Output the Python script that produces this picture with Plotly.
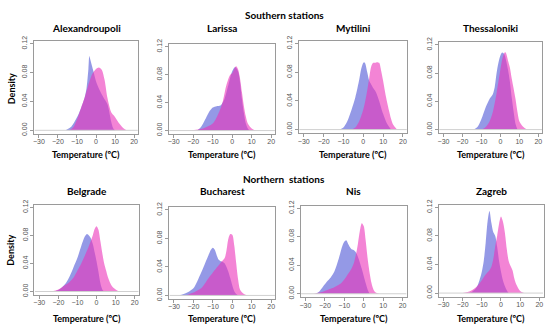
import plotly.graph_objects as go

# ---------------- data ----------------
stations = ["Alexandroupoli", "Larissa", "Mytilini", "Thessaloniki",
            "Belgrade", "Bucharest", "Nis", "Zagreb"]
group_titles = ["Southern stations", "Northern  stations"]
x_ticks = [-30, -20, -10, 0, 10, 20]
y_ticks = [0.00, 0.04, 0.08, 0.12]
y_tick_labels = ["0.00", "0.04", "0.08", "0.12"]

alex_blue_x = [-16, -13, -10, -8, -6, -5, -4, -3.5, -3, -2, -1, 0, 2, 4, 6, 8, 9, 10]
alex_blue_y = [0, 0.005, 0.018, 0.03, 0.045, 0.058, 0.085, 0.103, 0.098, 0.088, 0.078, 0.068, 0.055, 0.045, 0.036, 0.012, 0.003, 0]
alex_pink_x = [-14, -12, -10, -8, -6, -4, -2, 0, 1.5, 3, 4.5, 6, 8, 9.5, 12, 14, 16]
alex_pink_y = [0, 0.004, 0.015, 0.03, 0.045, 0.063, 0.078, 0.085, 0.087, 0.084, 0.07, 0.045, 0.025, 0.02, 0.01, 0.004, 0]

lar_blue_x = [-18, -16, -14, -12, -10, -8, -6, -4, -2, 0, 1.5, 3, 4, 5, 6, 7, 8, 9]
lar_blue_y = [0, 0.005, 0.015, 0.026, 0.033, 0.035, 0.036, 0.045, 0.065, 0.085, 0.091, 0.085, 0.07, 0.045, 0.025, 0.01, 0.003, 0]
lar_pink_x = [-22, -15, -10, -7, -5, -3, -1, 0, 1, 2, 3, 4, 5, 6, 7, 8, 10, 12]
lar_pink_y = [0, 0.003, 0.01, 0.025, 0.04, 0.065, 0.08, 0.082, 0.088, 0.092, 0.088, 0.075, 0.055, 0.035, 0.02, 0.01, 0.003, 0]

myt_blue_x = [-12, -10, -8, -6, -4, -2, -1, 0, 0.5, 1, 2, 3, 4, 5, 6, 7, 8, 10, 12, 14]
myt_blue_y = [0, 0.003, 0.012, 0.027, 0.045, 0.07, 0.085, 0.093, 0.094, 0.092, 0.08, 0.068, 0.063, 0.058, 0.054, 0.048, 0.04, 0.022, 0.008, 0]
myt_pink_x = [-6, -4, -2, 0, 1, 2, 3, 4, 5, 6, 7, 8, 9, 10, 11, 12, 13, 14, 15, 17]
myt_pink_y = [0, 0.003, 0.012, 0.028, 0.04, 0.055, 0.072, 0.088, 0.093, 0.093, 0.094, 0.093, 0.082, 0.068, 0.052, 0.038, 0.026, 0.015, 0.007, 0]

thes_blue_x = [-14, -12, -10, -8, -6, -5, -4, -3, -2, -1, 0, 1, 2, 3, 4, 5, 6, 7, 8, 9]
thes_blue_y = [0, 0.004, 0.015, 0.03, 0.042, 0.046, 0.05, 0.06, 0.08, 0.095, 0.105, 0.109, 0.107, 0.098, 0.085, 0.068, 0.045, 0.025, 0.008, 0]
thes_pink_x = [-10, -8, -6, -4, -2, 0, 1, 2, 2.5, 3, 4, 5, 6, 7, 8, 9, 10, 12, 14]
thes_pink_y = [0, 0.003, 0.01, 0.025, 0.052, 0.085, 0.1, 0.108, 0.11, 0.108, 0.098, 0.088, 0.072, 0.058, 0.043, 0.025, 0.012, 0.004, 0]

bel_blue_x = [-22, -20, -18, -16, -14, -12, -10, -8, -6, -5, -4, -3, -2, -1, 0, 1, 2, 3, 4]
bel_blue_y = [0, 0.002, 0.006, 0.012, 0.022, 0.035, 0.048, 0.065, 0.079, 0.082, 0.08, 0.076, 0.068, 0.056, 0.043, 0.028, 0.012, 0.003, 0]
bel_pink_x = [-24, -20, -16, -14, -12, -10, -8, -6, -4, -2, -1, 0, 1, 2, 3, 4, 5, 6, 8, 10, 12]
bel_pink_y = [0, 0.003, 0.01, 0.014, 0.02, 0.03, 0.04, 0.052, 0.065, 0.08, 0.089, 0.093, 0.088, 0.072, 0.055, 0.04, 0.03, 0.02, 0.008, 0.003, 0]

buc_blue_x = [-28, -25, -22, -20, -18, -16, -14, -12, -11, -10, -9, -8, -7, -6, -5, -4, -3, -2, -1, 0, 1, 2, 3]
buc_blue_y = [0, 0.002, 0.006, 0.01, 0.02, 0.032, 0.045, 0.058, 0.064, 0.067, 0.064, 0.056, 0.05, 0.048, 0.047, 0.045, 0.04, 0.033, 0.024, 0.014, 0.006, 0.002, 0]
buc_pink_x = [-24, -20, -18, -16, -14, -12, -10, -8, -6, -4, -3, -2, -1, 0, 1, 2, 3, 4, 6, 8]
buc_pink_y = [0, 0.004, 0.007, 0.01, 0.017, 0.025, 0.032, 0.039, 0.046, 0.052, 0.063, 0.08, 0.086, 0.085, 0.07, 0.045, 0.022, 0.008, 0.002, 0]

nis_blue_x = [-25, -23, -21, -19, -17, -15, -13, -11, -10, -9, -8, -7, -6, -5, -4, -3, -2, -1, 0, 1, 2, 3]
nis_blue_y = [0, 0.003, 0.01, 0.017, 0.023, 0.032, 0.048, 0.067, 0.073, 0.075, 0.07, 0.065, 0.062, 0.061, 0.058, 0.052, 0.044, 0.035, 0.025, 0.015, 0.006, 0]
nis_pink_x = [-26, -22, -20, -18, -16, -14, -12, -10, -8, -6, -5, -4, -3, -2, -1, 0, 1, 2, 3, 4, 5, 6, 8]
nis_pink_y = [0, 0.002, 0.004, 0.006, 0.008, 0.011, 0.014, 0.02, 0.028, 0.037, 0.044, 0.055, 0.07, 0.088, 0.099, 0.095, 0.075, 0.05, 0.03, 0.015, 0.006, 0.002, 0]

zag_blue_x = [-17, -15, -13, -12, -11, -10, -9, -8, -7, -6, -5, -4, -3, -2, -1, 0, 1, 2, 3, 4]
zag_blue_y = [0, 0.002, 0.007, 0.012, 0.02, 0.03, 0.045, 0.07, 0.1, 0.115, 0.098, 0.085, 0.08, 0.065, 0.045, 0.03, 0.018, 0.01, 0.004, 0]
zag_pink_x = [-20, -16, -14, -12, -10, -8, -6, -5, -4, -3, -2, -1, 0, 1, 2, 3, 4, 5, 6, 7, 8, 10, 12]
zag_pink_y = [0, 0.003, 0.006, 0.011, 0.018, 0.026, 0.032, 0.037, 0.048, 0.066, 0.08, 0.097, 0.107, 0.1, 0.085, 0.062, 0.045, 0.038, 0.032, 0.02, 0.012, 0.003, 0]

blue_series = [(alex_blue_x, alex_blue_y), (lar_blue_x, lar_blue_y), (myt_blue_x, myt_blue_y), (thes_blue_x, thes_blue_y),
               (bel_blue_x, bel_blue_y), (buc_blue_x, buc_blue_y), (nis_blue_x, nis_blue_y), (zag_blue_x, zag_blue_y)]
pink_series = [(alex_pink_x, alex_pink_y), (lar_pink_x, lar_pink_y), (myt_pink_x, myt_pink_y), (thes_pink_x, thes_pink_y),
               (bel_pink_x, bel_pink_y), (buc_pink_x, buc_pink_y), (nis_pink_x, nis_pink_y), (zag_pink_x, zag_pink_y)]

# ---------------- layout geometry (pixels) ----------------
W, H = 550, 331
# pixel positions of x=-30, x=20, y=0.00, y=0.12 for each panel
panel_px = [
    (38.0, 133.3, 128.0, 39.5),
    (173.0, 270.7, 128.3, 42.7),
    (303.3, 402.7, 127.3, 39.3),
    (443.3, 538.3, 127.3, 40.7),
    (38.3, 134.0, 292.7, 206.7),
    (173.3, 270.7, 296.7, 209.3),
    (305.0, 402.3, 295.0, 207.7),
    (443.3, 539.3, 294.3, 206.7),
]
XR = [-32.5, 22.2]
YR = [-0.005, 0.1235]

FONT = "Lato, 'Open Sans', sans-serif"
BLUE = "rgba(60,70,210,0.55)"
PINK = "rgba(235,50,185,0.60)"
AXCOL = "#9a9a9a"

fig = go.Figure()
layout = dict(width=W, height=H, margin=dict(l=0, r=0, t=0, b=0),
              paper_bgcolor="white", plot_bgcolor="white", showlegend=False)
shapes = []
annotations = []

for i, (px30, px20, py0, py12) in enumerate(panel_px):
    sx = (px20 - px30) / 50.0
    sy = (py0 - py12) / 0.12
    left = px30 + (XR[0] + 30) * sx
    right = px20 + (XR[1] - 20) * sx
    bottom = py0 - YR[0] * sy
    top = py0 - YR[1] * sy
    n = "" if i == 0 else str(i + 1)
    xa, ya = "x" + n, "y" + n
    layout["xaxis" + n] = dict(domain=[left / W, right / W], range=XR, anchor=ya,
                               tickvals=x_ticks, ticks="outside", ticklen=3, tickcolor=AXCOL,
                               ticklabelstandoff=-2,
                               tickfont=dict(size=7, color="#555", family="Arial"),
                               showgrid=False, zeroline=False, showline=True, linecolor=AXCOL,
                               linewidth=1, mirror=True, fixedrange=True)
    layout["yaxis" + n] = dict(domain=[1 - bottom / H, 1 - top / H], range=YR, anchor=xa,
                               tickvals=y_ticks, ticktext=y_tick_labels, tickangle=-90,
                               ticks="outside", ticklen=3, tickcolor=AXCOL,
                               tickfont=dict(size=7, color="#555", family="Arial"),
                               showgrid=False, zeroline=False, showline=True, linecolor=AXCOL,
                               linewidth=1, mirror=True, fixedrange=True)
    # baseline of density polygons
    shapes.append(dict(type="line", xref=xa + " domain", yref=ya, x0=0.005, x1=0.995, y0=0, y1=0,
                       line=dict(color="#d0d0d0", width=1)))
    bx, by = blue_series[i]
    pxs, pys = pink_series[i]
    fig.add_trace(go.Scatter(x=bx, y=by, xaxis=xa, yaxis=ya, mode="lines", fill="tozeroy",
                             fillcolor=BLUE, line=dict(width=0, shape="spline", smoothing=0.8),
                             hoverinfo="skip"))
    fig.add_trace(go.Scatter(x=pxs, y=pys, xaxis=xa, yaxis=ya, mode="lines", fill="tozeroy",
                             fillcolor=PINK, line=dict(width=0, shape="spline", smoothing=0.8),
                             hoverinfo="skip"))
    cx = (left + right) / 2
    row_top = i < 4
    # station title
    annotations.append(dict(text="<b>%s</b>" % stations[i], xref="paper", yref="paper",
                            x=cx / W, y=1 - ((24 if row_top else 190) / H), xanchor="center",
                            yanchor="middle", showarrow=False,
                            font=dict(size=10, color="black", family=FONT)))
    # x axis title
    annotations.append(dict(text="<b>Temperature (ºC)</b>", xref="paper", yref="paper",
                            x=cx / W, y=1 - ((153 if row_top else 320) / H), xanchor="center",
                            yanchor="middle", showarrow=False,
                            font=dict(size=9, color="black", family=FONT)))

# Density labels
for yy in (85, 250):
    annotations.append(dict(text="<b>Density</b>", xref="paper", yref="paper", x=10 / W,
                            y=1 - yy / H, xanchor="center", yanchor="middle", textangle=-90,
                            showarrow=False, font=dict(size=9, color="black", family=FONT)))
# group titles
for txt, yy in zip(group_titles, (10, 178)):
    annotations.append(dict(text="<b>%s</b>" % txt, xref="paper", yref="paper", x=284 / W,
                            y=1 - yy / H, xanchor="center", yanchor="middle", showarrow=False,
                            font=dict(size=10, color="black", family=FONT)))

layout["shapes"] = shapes
layout["annotations"] = annotations
fig.update_layout(**layout)
fig.write_html("out.html", config={"displayModeBar": False},
               post_script="document.body.style.margin='0px';")
